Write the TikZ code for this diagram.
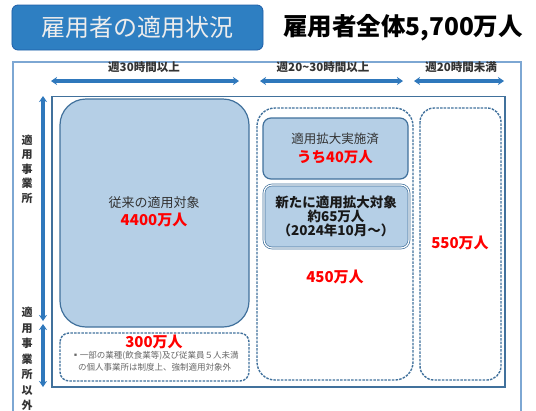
\documentclass[tikz,border=0pt]{standalone}
\usepackage{fontspec}
\setmainfont{Noto Sans CJK JP}
\usetikzlibrary{arrows.meta}
\definecolor{titleblue}{HTML}{2E7FC2}
\definecolor{titleedge}{HTML}{1F5EA8}
\definecolor{framec}{HTML}{7DA7D3}
\definecolor{arrowc}{HTML}{2F78BC}
\definecolor{edgec}{HTML}{41719C}
\definecolor{fillc}{HTML}{B5CFE6}
\definecolor{txtc}{HTML}{333333}
\tikzset{
  fs/.style={font=\fontsize{#1bp}{#1bp}\selectfont},
  dbl/.style={draw=arrowc, line width=3.2bp, >={Stealth[length=6bp,width=8bp]}, <->},
  dashbox/.style={draw=edgec, line width=1.4bp, dash pattern=on 2.5bp off 1.2bp, rounded corners=14bp},
  solidbox/.style={draw=edgec, fill=fillc, line width=1.2bp},
  rednum/.style={text=red, font=\fontsize{15bp}{15bp}\selectfont\bfseries},
  lbl/.style={text=txtc, font=\fontsize{11.5bp}{11.5bp}\selectfont\bfseries}
}
\begin{document}
\begin{tikzpicture}[x=1bp,y=-1bp]
\useasboundingbox (0,0) rectangle (536,410);
% title
\node[draw=titleedge, fill=titleblue, line width=0.8bp, rounded corners=6bp, minimum width=251bp, minimum height=45bp, inner sep=0pt] (title) at (137.5,27.5) {};
\node[text=white!93!black, fs=24] (titletext) at (title.center) {雇用者の適用状況};
\node[anchor=west, inner sep=0pt] (total) at (283,28) {\fontsize{24.5bp}{24.5bp}\selectfont\bfseries 雇用者全体5,700万人};
% outer frame
\draw[framec, line width=1.3bp] (13,412) -- (13,62) -- (521,62) -- (521,412);
% headers
\node[lbl] (h1) at (144,67) {週30時間以上};
\node[lbl] (h2) at (323,67) {週20\textasciitilde30時間以上};
\node[lbl] (h3) at (461,67) {週20時間未満};
\coordinate (a1l) at (51,81); \coordinate (a1r) at (239,81);
\coordinate (a2l) at (260,81); \coordinate (a2r) at (403,81);
\coordinate (a3l) at (414,81); \coordinate (a3r) at (504,81);
\draw[dbl] (a1l) -- (a1r);
\draw[dbl] (a2l) -- (a2r);
\draw[dbl] (a3l) -- (a3r);
% vertical arrows
\coordinate (v1t) at (43,96); \coordinate (v1b) at (43,321);
\coordinate (v2t) at (43,324); \coordinate (v2b) at (43,387);
\draw[dbl] (v1t) -- (v1b);
\draw[dbl] (v2t) -- (v2b);
\node[text=txtc, align=center, font=\fontsize{11bp}{14.5bp}\selectfont\bfseries, inner sep=0pt] (vl1) at (27,169) {適\\用\\事\\業\\所};
\node[text=txtc, align=center, font=\fontsize{11bp}{15.5bp}\selectfont\bfseries, inner sep=0pt] (vl2) at (27,359) {適\\用\\事\\業\\所\\以\\外};
% inner frame
\draw[edgec, line width=1.4bp] (52,96.5) rectangle (505,387);
% big box
\draw[solidbox, rounded corners=26bp] (60,99) rectangle (249,327);
\node[text=txtc, fs=13] (b1) at (154,203) {従来の適用対象};
\node[rednum] (b1n) at (154,220) {4400万人};
% 300 box
\draw[dashbox, rounded corners=9bp] (60,333) rectangle (249,381);
\node[rednum] (n300) at (154,342) {300万人};
\node[text=black!60, align=left, font=\fontsize{8.5bp}{12bp}\selectfont, inner sep=0pt] (note) at (155,361) {▪一部の業種(飲食業等)及び従業員５人未満\\\hspace{0.8em}の個人事業所は制度上、強制適用対象外};
% middle dashed
\draw[dashbox, rounded corners=18bp] (257,108) rectangle (413,380);
\draw[solidbox, rounded corners=8bp] (263,118) rectangle (408,179);
\node[text=txtc, fs=12.5] (m1) at (335,139) {適用拡大実施済};
\node[rednum, font=\fontsize{14.5bp}{14.5bp}\selectfont\bfseries] (m1n) at (335,157) {うち40万人};
\draw[draw=edgec, fill=fillc, line width=0.7bp, double=white, double distance=1.2bp, rounded corners=8bp] (264,185) rectangle (409,248);
\node[align=center, font=\fontsize{13.5bp}{14bp}\selectfont\bfseries, text=black!90] (m2) at (336,216) {新たに適用拡大対象\\約65万人\\（2024年10月～）};
\node[rednum] (n450) at (335,277) {450万人};
% right dashed
\draw[dashbox, rounded corners=14bp] (420,108) rectangle (501,380);
\node[rednum] (n550) at (460,243) {550万人};
\end{tikzpicture}
\end{document}
